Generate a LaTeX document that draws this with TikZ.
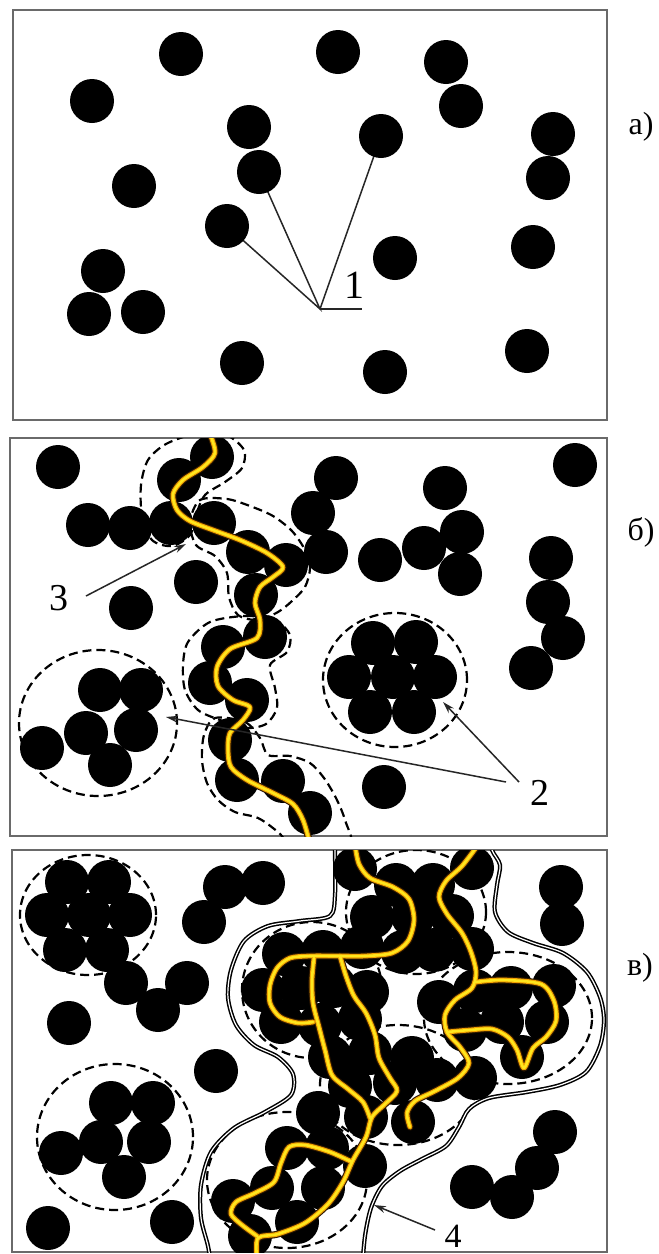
\documentclass[tikz,border=0pt]{standalone}
\usepackage{fontspec}
\setmainfont{Liberation Serif}
\usetikzlibrary{arrows.meta}
\definecolor{chanhalo}{HTML}{2E1800}
\definecolor{chanamber}{HTML}{F0A000}
\definecolor{chancore}{HTML}{FFE61E}
\definecolor{boxgray}{HTML}{6A6A6A}
\begin{document}
\begin{tikzpicture}[x=1pt,y=-1pt,
  boxline/.style={draw=boxgray, line width=2pt},
  ball/.style={fill=black},
  zone/.style={draw=black, line width=2.2pt, dash pattern=on 9pt off 5pt},
  rim/.style={draw=black, line width=1.5pt, double=white, double distance=1.2pt},
  pointer/.style={draw=black!85, line width=1.5pt},
  arrowline/.style={pointer, -{Stealth[length=12pt,width=7pt]}},
  halo/.style={draw=chanhalo, line width=7pt, line cap=round, line join=round},
  amber/.style={draw=chanamber, line width=4.8pt, line cap=round, line join=round},
  core/.style={draw=chancore, line width=2.6pt, line cap=round, line join=round},
  tag/.style={font=\rmfamily\fontsize{38}{38}\selectfont, inner sep=0pt},
  panel/.style={font=\rmfamily\fontsize{32}{32}\selectfont, inner sep=0pt}
]
\useasboundingbox (0,0) rectangle (659,1254);
\fill[white] (0,0) rectangle (659,1254);

% ---------------- panel a: isolated particles ----------------
\draw[boxline] (13,10) rectangle (607,420);
\coordinate (apex) at (320,309);
\coordinate (p1) at (227,226);
\coordinate (p2) at (259,172);
\coordinate (p3) at (381,136);
\coordinate (foot) at (362,309);
\draw[pointer] (p1) -- (apex) -- (p2);
\draw[pointer] (apex) -- (p3);
\draw[pointer] (apex) -- (foot);
\foreach \x/\y in {181/54,338/52,446/62,92/101,461/106,249/127,381/136,553/134,
  548/178,134/186,259/172,227/226,395/258,533/247,103/271,89/314,143/312,
  242/363,385/372,527/351}
  \fill[ball] (\x,\y) circle[radius=22pt];
\node[tag, font=\rmfamily\fontsize{40}{40}\selectfont] (lab1) at (354,285) {1};
\node[panel] (pa) at (641,127) {а)};

% ---------------- panel b: clusters and one conducting chain ----------------
\draw[boxline] (10,438) rectangle (607,836);
\begin{scope}
  \clip (10,438) rectangle (607,836);
  \draw[zone] (98,723) ellipse[x radius=79pt, y radius=73pt];
  \draw[zone] (395,680) ellipse[x radius=72pt, y radius=67pt];
  \draw[zone] plot[smooth cycle] coordinates {(195,434) (226,435) (244,450) (242,468)
    (225,482) (205,495) (196,515) (190,535) (172,546) (152,540) (142,515) (141,485)
    (148,460) (166,444)};
  \draw[zone] plot[smooth cycle] coordinates {(200,500) (227,499) (250,506) (273,516)
    (292,531) (305,550) (310,568) (305,587) (292,601) (278,612) (258,620) (238,615)
    (229,597) (227,573) (215,556) (196,545) (190,522)};
  \draw[zone] plot[smooth cycle] coordinates {(210,622) (245,616) (275,620) (290,635)
    (287,652) (270,665) (275,688) (277,708) (266,724) (245,728) (220,720) (198,710)
    (185,690) (183,665) (188,642)};
  \draw[zone] plot[smooth cycle] coordinates {(215,718) (245,722) (260,738) (268,755)
    (290,756) (310,763) (324,778) (336,798) (345,820) (350,848) (300,852) (278,832)
    (258,818) (235,812) (218,800) (207,783) (202,760) (204,735)};
  \foreach \x/\y in {58/467,212/457,179/480,336/478,445/488,575/465,
    88/525,130/528,171/523,214/523,313/513,462/532,
    380/560,424/548,326/552,248/552,286/565,460/574,551/558,
    196/582,256/595,131/608,548/602,
    265/637,223/647,563/638,531/668,
    373/643,416/642,349/677,393/677,435/677,370/712,414/712,
    100/690,141/690,86/733,136/730,42/748,110/765,
    210/683,247/700,230/740,237/780,283/781,310/813,384/787}
    \fill[ball] (\x,\y) circle[radius=22pt];
  \def\chainB{plot[smooth] coordinates {(210,434) (215,453) (203,467) (183,480)
    (173,494) (177,510) (190,521) (213,530) (240,540) (267,553) (283,567) (273,577)
    (260,587) (255,603) (260,620) (257,638) (230,649) (217,667) (218,686) (233,700)
    (250,707) (243,720) (230,733) (228,750) (231,767) (247,780) (273,793) (293,804)
    (303,820) (309,840)}}
  \foreach \layer in {halo,amber,core} \draw[\layer] \chainB;
\end{scope}
\node[tag] (lab3) at (59,598) {3};
\coordinate (s3) at (86,596);
\coordinate (t3) at (186,544);
\draw[arrowline] (s3) -- (t3);
\node[tag] (lab2) at (540,793) {2};
\coordinate (s2a) at (519,782);
\coordinate (s2b) at (506,782);
\coordinate (t2a) at (443,702);
\coordinate (t2b) at (166,717);
\draw[arrowline] (s2a) -- (t2a);
\draw[arrowline] (s2b) -- (t2b);
\node[panel] (pb) at (641,532) {б)};

% ---------------- panel c: percolating network ----------------
\draw[boxline] (12,850) rectangle (607,1252);
\begin{scope}
  \clip (12,850) rectangle (607,1252);
  \draw[zone] (88,915) ellipse[x radius=68pt, y radius=60pt];
  \draw[zone] (115,1137) ellipse[x radius=78pt, y radius=73pt];
  \draw[zone] (416,912) ellipse[x radius=70pt, y radius=62pt];
  \draw[zone] (312,990) ellipse[x radius=70pt, y radius=68pt];
  \draw[zone] (508,1018) ellipse[x radius=84pt, y radius=66pt];
  \draw[zone] (398,1085) ellipse[x radius=78pt, y radius=60pt];
  \draw[zone] (287,1180) ellipse[x radius=80pt, y radius=68pt];
  \draw[rim] plot[smooth] coordinates {(335,830) (335,852) (335,895) (330,916)
    (300,921) (268,926) (244,941) (231,970) (228,998) (236,1025) (254,1045)
    (278,1057) (293,1074) (291,1095) (265,1112) (234,1128) (211,1152) (201,1185)
    (201,1218) (208,1246) (212,1270)};
  \draw[rim] plot[smooth] coordinates {(362,1270) (365,1236) (371,1208) (382,1186)
    (400,1171) (422,1159) (446,1146) (459,1127) (469,1109) (489,1098) (527,1092)
    (560,1085) (586,1072) (600,1046) (604,1020) (600,997) (587,972) (563,953)
    (533,943) (508,932) (495,912) (497,885) (500,865) (492,850) (488,830)};
  \foreach \x/\y in {67/882,109/882,47/915,89/915,130/915,65/950,107/950,
    225/887,263/883,204/922,126/983,187/983,158/1010,69/1023,216/1071,
    561/887,562/924,
    111/1103,153/1103,61/1153,101/1142,149/1142,124/1177,48/1228,172/1222,
    555/1132,537/1168,472/1187,512/1197,
    355/869,396/885,433/885,472/868,
    372/917,413/916,452/916,
    284/954,323/952,362/947,403/952,434/950,472/949,
    263/990,301/988,334/986,367/992,439/1002,475/991,511/988,554/986,
    281/1022,320/1025,360/1019,465/1030,502/1022,547/1022,
    330/1057,370/1053,412/1058,522/1057,
    350/1086,395/1083,437/1080,475/1078,
    318/1113,366/1117,413/1122,
    287/1148,327/1148,365/1166,
    233/1201,272/1188,323/1188,
    250/1236,297/1222}
    \fill[ball] (\x,\y) circle[radius=22pt];
  \def\netA{plot[smooth] coordinates {(355,845) (359,864) (370,878) (393,887)
    (409,899) (414,920) (408,941) (392,953) (365,956) (337,956) (310,956) (290,958)
    (277,968) (270,985) (270,1003) (280,1017) (298,1023) (313,1022)}}
  \def\netB{plot[smooth] coordinates {(340,956) (346,976) (354,996) (366,1013)
    (375,1035) (379,1058) (390,1078) (397,1091) (385,1104) (372,1117) (366,1137)
    (353,1160) (343,1182) (328,1204) (305,1223) (278,1234) (258,1238) (257,1258)}}
  \def\netC{plot[smooth] coordinates {(314,958) (312,980) (313,1003) (319,1027)
    (325,1050) (332,1075) (348,1089) (363,1102) (370,1118)}}
  \def\netD{plot[smooth] coordinates {(352,1162) (330,1152) (305,1145) (289,1147)
    (281,1163) (274,1182) (255,1193) (236,1202) (231,1214) (242,1225) (257,1236)}}
  \def\netE{plot[smooth] coordinates {(478,845) (462,866) (446,881) (439,897)
    (447,914) (462,933) (471,952) (476,972) (472,988) (455,1000) (445,1015)
    (447,1032) (460,1047) (469,1063) (458,1078) (435,1091) (415,1101) (407,1113)
    (410,1127)}}
  \def\netF{plot[smooth] coordinates {(476,982) (503,980) (541,984) (554,1001)
    (556,1021) (546,1037) (533,1048) (524,1068) (517,1050) (508,1037) (492,1029)
    (470,1030) (447,1032)}}
  \foreach \layer in {halo,amber,core}
    {\draw[\layer] \netA; \draw[\layer] \netB; \draw[\layer] \netC;
     \draw[\layer] \netD; \draw[\layer] \netE; \draw[\layer] \netF;}
\end{scope}
\node[tag, font=\rmfamily\fontsize{34}{34}\selectfont] (lab4) at (453,1236) {4};
\coordinate (s4) at (435,1230);
\coordinate (t4) at (374,1205);
\draw[arrowline] (s4) -- (t4);
\node[panel] (pc) at (640,968) {в)};
\end{tikzpicture}
\end{document}
